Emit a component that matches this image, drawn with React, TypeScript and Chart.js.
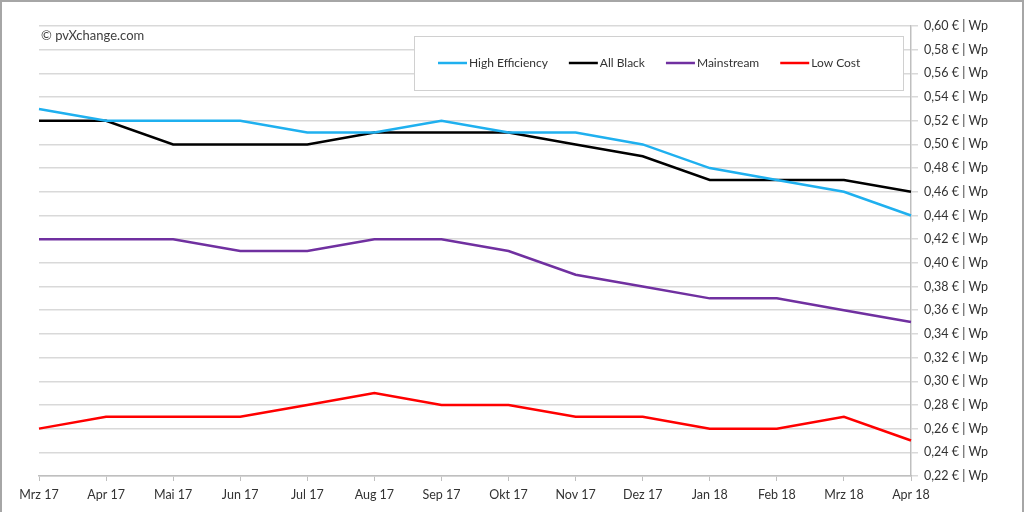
import React, { useEffect, useRef } from "react";
import { Chart, registerables } from "chart.js";

Chart.register(...registerables);

const categories = [
  "Mrz 17", "Apr 17", "Mai 17", "Jun 17", "Jul 17", "Aug 17", "Sep 17",
  "Okt 17", "Nov 17", "Dez 17", "Jan 18", "Feb 18", "Mrz 18", "Apr 18",
];
const highEfficiency = [0.53, 0.52, 0.52, 0.52, 0.51, 0.51, 0.52, 0.51, 0.51, 0.50, 0.48, 0.47, 0.46, 0.44];
const allBlack = [0.52, 0.52, 0.50, 0.50, 0.50, 0.51, 0.51, 0.51, 0.50, 0.49, 0.47, 0.47, 0.47, 0.46];
const mainstream = [0.42, 0.42, 0.42, 0.41, 0.41, 0.42, 0.42, 0.41, 0.39, 0.38, 0.37, 0.37, 0.36, 0.35];
const lowCost = [0.26, 0.27, 0.27, 0.27, 0.28, 0.29, 0.28, 0.28, 0.27, 0.27, 0.26, 0.26, 0.27, 0.25];
const seriesNames = ["High Efficiency", "All Black", "Mainstream", "Low Cost"];
const seriesColors = ["#1fb0ef", "#000000", "#7030a0", "#ff0000"];
const yMin = 0.22;
const yMax = 0.6;
const yStep = 0.02;
const copyright = "© pvXchange.com";

const FONT = "Lato, 'Open Sans', sans-serif";

const overlayPlugin = {
  id: "overlay",
  afterDraw(chart: any) {
    const ctx = chart.ctx;
    const area = chart.chartArea;
    ctx.save();
    // copyright
    ctx.font = `13px ${FONT}`;
    ctx.fillStyle = "#404040";
    ctx.textBaseline = "middle";
    ctx.textAlign = "left";
    ctx.fillText(copyright, area.left + 2, area.top + 10);

    // legend box
    const boxX = 414;
    const boxY = area.top + 10;
    const boxW = 489;
    const boxH = 54;
    ctx.fillStyle = "#ffffff";
    ctx.fillRect(boxX, boxY, boxW, boxH);
    ctx.strokeStyle = "#d0d0d0";
    ctx.lineWidth = 1;
    ctx.strokeRect(boxX + 0.5, boxY + 0.5, boxW, boxH);

    ctx.font = `12px ${FONT}`;
    const cy = boxY + boxH / 2;
    let x = boxX + 24;
    chart.data.datasets.forEach((ds: any) => {
      ctx.strokeStyle = ds.borderColor;
      ctx.lineWidth = 2.5;
      ctx.beginPath();
      ctx.moveTo(x, cy);
      ctx.lineTo(x + 29, cy);
      ctx.stroke();
      ctx.fillStyle = "#333333";
      ctx.fillText(ds.label, x + 31, cy);
      x += 31 + ctx.measureText(ds.label).width + 21;
    });
    ctx.restore();
  },
};

export default function App() {
  const ref = useRef<HTMLCanvasElement | null>(null);
  useEffect(() => {
    if (!ref.current) return;
    const data = [highEfficiency, allBlack, mainstream, lowCost];
    const chart = new Chart(ref.current, {
      type: "line",
      data: {
        labels: categories,
        datasets: seriesNames.map((name, i) => ({
          label: name,
          data: data[i],
          borderColor: seriesColors[i],
          backgroundColor: seriesColors[i],
          borderWidth: 2.5,
          pointRadius: 0,
          tension: 0,
        })),
      },
      options: {
        responsive: false,
        animation: false,
        devicePixelRatio: 1,
        layout: { padding: { left: 39, top: 26, right: 0, bottom: 0 } },
        plugins: { legend: { display: false }, tooltip: { enabled: false } },
        scales: {
          x: {
            offset: false,
            grid: {
              drawOnChartArea: false,
              drawTicks: true,
              tickLength: 5,
              color: "#bfbfbf",
            },
            border: { color: "#bfbfbf", width: 1.5 },
            ticks: {
              color: "#333333",
              font: { family: FONT, size: 12.5 },
              maxRotation: 0,
              autoSkip: false,
              padding: 6,
            },
            afterFit: (s: any) => {
              s.height = 36;
            },
          },
          y: {
            position: "right",
            min: yMin,
            max: yMax,
            grid: {
              color: "#d9d9d9",
              lineWidth: 1.5,
              tickLength: 7,
            },
            border: { color: "#bfbfbf", width: 1.5 },
            ticks: {
              stepSize: yStep,
              color: "#333333",
              font: { family: FONT, size: 12.5 },
              padding: 6,
              callback: (v: any) => Number(v).toFixed(2).replace(".", ",") + " € | Wp",
            },
            afterFit: (s: any) => {
              s.width = 113;
            },
          },
        },
      },
      plugins: [overlayPlugin],
    });
    return () => chart.destroy();
  }, []);

  return (
    <div style={{ position: "fixed", left: 0, top: 0, width: 1024, height: 512, background: "#fff", overflow: "hidden" }}>
      <div
        style={{
          position: "absolute",
          left: 0,
          top: 0,
          width: 1020,
          height: 530,
          border: "2px solid #a6a6a6",
        }}
      />
      <canvas ref={ref} width={1024} height={512} style={{ position: "absolute", left: 0, top: 0 }} />
    </div>
  );
}
